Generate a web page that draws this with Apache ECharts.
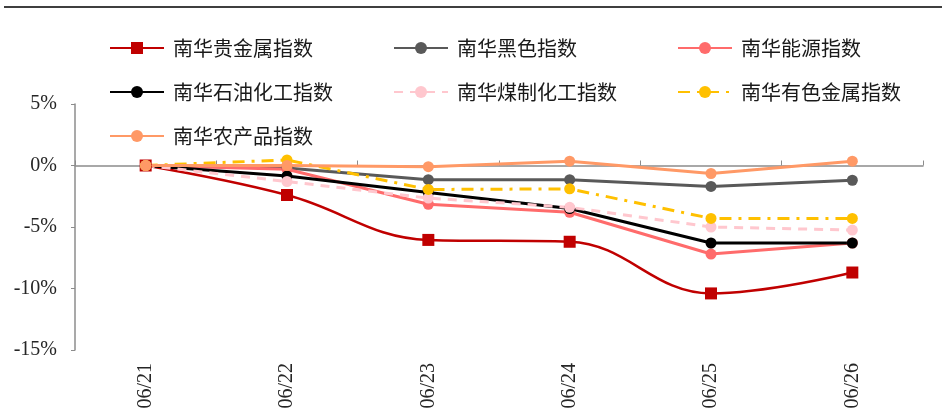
<!DOCTYPE html>
<html>
<head>
<meta charset="utf-8">
<script src="https://cdn.jsdelivr.net/npm/echarts@6/dist/echarts.min.js"></script>
<style>
  html, body { margin: 0; padding: 0; background: #fff; }
  #main { width: 942px; height: 419px; }
</style>
</head>
<body>
<div id="main"></div>
<script>
// 日期
var dates = ['06/21', '06/22', '06/23', '06/24', '06/25', '06/26']
// 各指数累计涨跌幅 (%)
var guijinshu = [0, -2.4, -6.05, -6.2, -10.4, -8.7]
var heise = [0, -0.2, -1.15, -1.15, -1.7, -1.2]
var nengyuan = [0, -0.3, -3.15, -3.8, -7.2, -6.3]
var shiyou = [0, -0.85, -2.2, -3.5, -6.3, -6.3]
var meizhi = [0, -1.3, -2.65, -3.4, -5.0, -5.25]
var youse = [0, 0.45, -1.95, -1.9, -4.3, -4.3]
var nongchanpin = [0, 0.0, -0.1, 0.35, -0.65, 0.35]
// y轴刻度
var yMin = -15
var yMax = 5
var yStep = 5

var serif = '"Liberation Serif", "DejaVu Serif", serif'
var cjk = '"Noto Sans CJK SC", sans-serif'

function line(name, data, color, opts) {
  opts = opts || {}
  return {
    name: name,
    type: 'line',
    data: data,
    xAxisIndex: 0,
    smooth: opts.smooth || false,
    symbol: opts.symbol || 'circle',
    symbolSize: opts.symbolSize || 11,
    showAllSymbol: true,
    itemStyle: { color: color },
    lineStyle: { color: color, width: opts.width || 3, type: opts.type || 'solid' }
  }
}

var legendBase = {
  orient: 'vertical',
  top: 33,
  itemWidth: 54,
  itemHeight: 15,
  itemGap: 24,
  textStyle: { fontFamily: cjk, fontSize: 20, lineHeight: 20, color: '#1a1a1a', padding: [0, 0, 0, 4] }
}

var myChart = echarts.init(document.getElementById('main'))
myChart.setOption({
  animation: false,
  graphic: [
    {
      type: 'line',
      shape: { x1: 4, y1: 7, x2: 942, y2: 7 },
      style: { stroke: '#3f3f3f', lineWidth: 2 }
    }
  ],
  legend: [
    Object.assign({}, legendBase, { left: 104, data: ['南华贵金属指数', '南华石油化工指数', '南华农产品指数'] }),
    Object.assign({}, legendBase, { left: 388, data: ['南华黑色指数', '南华煤制化工指数'] }),
    Object.assign({}, legendBase, { left: 672, data: ['南华能源指数', '南华有色金属指数'] })
  ],
  grid: { left: 75, right: 19, top: 104, bottom: 69 },
  xAxis: [
    {
      // 0轴
      type: 'category',
      data: dates,
      boundaryGap: true,
      axisLine: { onZero: true, lineStyle: { color: '#8c8c8c', width: 1.5 } },
      axisTick: { show: true, inside: true, length: 5, interval: 0, lineStyle: { color: '#8c8c8c' } },
      axisLabel: { show: false }
    },
    {
      // 底部日期标签
      type: 'category',
      data: dates,
      position: 'bottom',
      boundaryGap: true,
      axisLine: { show: false, onZero: false },
      axisTick: { show: false },
      axisLabel: { interval: 0, rotate: 90, margin: 13, fontFamily: serif, fontSize: 20, color: '#262626' }
    }
  ],
  yAxis: {
    type: 'value',
    min: yMin,
    max: yMax,
    interval: yStep,
    splitLine: { show: false },
    axisLine: { show: true, lineStyle: { color: '#8c8c8c', width: 1.5 } },
    axisTick: { show: true, length: 4, lineStyle: { color: '#8c8c8c' } },
    axisLabel: { formatter: '{value}%', margin: 18, fontFamily: serif, fontSize: 20, color: '#262626' }
  },
  series: [
    line('南华贵金属指数', guijinshu, '#c00000', { smooth: 0.4, symbol: 'rect', symbolSize: 12, width: 2.5 }),
    line('南华黑色指数', heise, '#595959'),
    line('南华能源指数', nengyuan, '#ff6b6b'),
    line('南华石油化工指数', shiyou, '#000000'),
    line('南华煤制化工指数', meizhi, '#ffc7ce', { type: [9, 7] }),
    line('南华有色金属指数', youse, '#ffc000', { type: [12, 7, 3, 7] }),
    line('南华农产品指数', nongchanpin, '#ff9966')
  ]
})
</script>
</body>
</html>
